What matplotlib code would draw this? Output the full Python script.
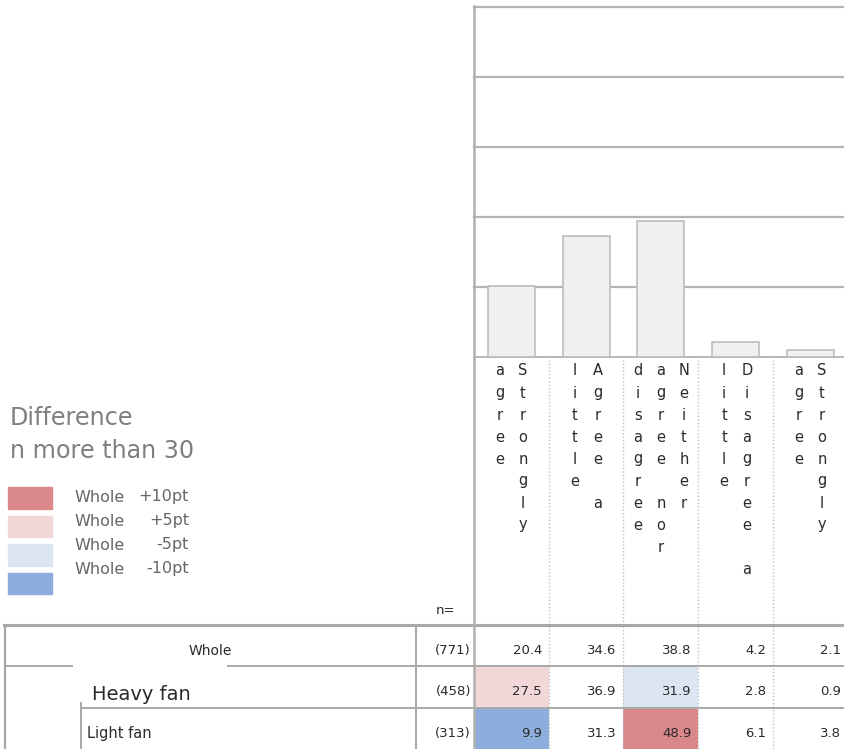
import numpy as np
import matplotlib
matplotlib.use("Agg")
import matplotlib.pyplot as plt
from matplotlib.patches import Rectangle

# ---------------- data ----------------
categories = ["Strongly\nagree", "Agree a\nlittle", "Neither\nagree nor\ndisagree",
              "Disagree a\nlittle", "Strongly\nagree"]
segments = ["Whole", "Heavy fan", "Light fan"]
n_values = [771, 458, 313]
whole_vals = [20.4, 34.6, 38.8, 4.2, 2.1]
heavy_vals = [27.5, 36.9, 31.9, 2.8, 0.9]
light_vals = [9.9, 31.3, 48.9, 6.1, 3.8]
legend_labels = [("Whole", "+10pt"), ("Whole", "+5pt"), ("Whole", "-5pt"), ("Whole", "-10pt")]
legend_colors = ["#da878a", "#f2d7d8", "#dce6f2", "#8daedc"]
yticks = [20, 40, 60, 80, 100]

rows = [whole_vals, heavy_vals, light_vals]

# ---------------- layout helpers ----------------
W, H = 845, 749
fig = plt.figure(figsize=(W / 100, H / 100), dpi=100)
fig.patch.set_facecolor("white")


def fr(x0, y0, x1, y1):
    return [x0 / W, 1 - y1 / H, (x1 - x0) / W, (y1 - y0) / H]


col_w = 74.75
x_left = 474
xmax = (W - x_left) / col_w
GRID = "#b4b4b4"
LINE = "#a8a8a8"
DOT = "#c0c0c0"
TXT = "#2a2a2a"

# ---------------- bar chart ----------------
ax_bar = fig.add_axes(fr(474, 7, W, 357))
ax_bar.set_xlim(0, xmax)
ax_bar.set_ylim(0, 100)
for s in ax_bar.spines.values():
    s.set_visible(False)
ax_bar.set_xticks([])
ax_bar.set_yticks([])
for yt in yticks:
    ax_bar.axhline(yt, color=GRID, lw=1.6, zorder=1, clip_on=False)
ax_bar.axhline(0, color="#b8b8b8", lw=1.4, zorder=1, clip_on=False)
xpos = np.arange(len(whole_vals)) + 0.5
ax_bar.bar(xpos, whole_vals, width=0.63, color="#f0f0f0", edgecolor="#bdbdbd",
           linewidth=1.2, zorder=3)

# ---------------- category labels (vertical stacked) ----------------
ax_lab = fig.add_axes(fr(474, 357, W, 625))
ax_lab.set_xlim(0, xmax)
ax_lab.set_ylim(625, 357)
ax_lab.axis("off")
sub_dx = 23 / col_w
for j, cat in enumerate(categories):
    parts = cat.split("\n")
    n = len(parts)
    for k, word in enumerate(parts):
        # first part is rightmost
        xc = j + 0.5 + ((n - 1) / 2 - k) * sub_dx
        for r, ch in enumerate(word):
            if ch == " ":
                continue
            ax_lab.text(xc, 371 + 22 * r, ch, ha="center", va="center",
                        fontsize=10.5, color=TXT)
for b in range(1, len(categories)):
    ax_lab.axvline(b, color=DOT, lw=1.0, ls=(0, (1, 1.5)))

# ---------------- data table ----------------
ax_tab = fig.add_axes(fr(474, 625, W, 749))
ax_tab.set_xlim(0, xmax)
ax_tab.set_ylim(3, 0)
ax_tab.axis("off")


def diff_color(v, base, n):
    if n <= 30:
        return None
    d = v - base
    if d >= 10:
        return legend_colors[0]
    if d >= 5:
        return legend_colors[1]
    if d <= -10:
        return legend_colors[3]
    if d <= -5:
        return legend_colors[2]
    return None


for i, vals in enumerate(rows):
    for j, v in enumerate(vals):
        if i > 0:
            c = diff_color(v, whole_vals[j], n_values[i])
            if c is not None:
                ax_tab.bar(j + 0.5, 1, width=1, bottom=i, color=c, zorder=1)
        ax_tab.text(j + 1 - 0.09, i + 0.62, f"{v:.1f}", ha="right", va="center",
                    fontsize=9.5, color=TXT, zorder=3)
for b in range(1, len(categories)):
    ax_tab.axvline(b, color=DOT, lw=1.0, ls=(0, (1, 1.5)), zorder=2)
for yb in (1, 2):
    ax_tab.axhline(yb, color=LINE, lw=1.4, zorder=2)

# ---------------- left side of the table ----------------
ax_left = fig.add_axes(fr(0, 625, 474, 749))
ax_left.set_xlim(0, 474)
ax_left.set_ylim(3, 0)
ax_left.axis("off")
ax_left.text(210, 0.62, segments[0], ha="center", va="center", fontsize=10, color=TXT)
ax_left.text(92, 1.68, segments[1], ha="left", va="center", fontsize=14, color=TXT)
ax_left.text(87, 2.62, segments[2], ha="left", va="center", fontsize=10.5, color=TXT)
for i, n in enumerate(n_values):
    ax_left.text(471, i + 0.62, f"({n})", ha="right", va="center", fontsize=9.5, color=TXT)
ax_left.plot([5, 5], [0, 3], color=LINE, lw=1.6, clip_on=False)
ax_left.plot([5, 72], [1, 1], color=LINE, lw=1.4)
ax_left.plot([228, 474], [1, 1], color=LINE, lw=1.4)
ax_left.plot([81, 81], [1.89, 3], color=LINE, lw=1.4)
ax_left.plot([81, 474], [2, 2], color=LINE, lw=1.4)
ax_left.plot([416, 416], [0, 3], color=LINE, lw=1.4)

# ---------------- overlay: frame lines, legend ----------------
ax_ov = fig.add_axes([0, 0, 1, 1])
ax_ov.set_xlim(0, W)
ax_ov.set_ylim(H, 0)
ax_ov.axis("off")
ax_ov.patch.set_alpha(0)
ax_ov.plot([4, W], [625, 625], color=LINE, lw=2.2)
ax_ov.plot([474, 474], [6, H], color="#b0b0b0", lw=1.8)
ax_ov.text(436, 610, "n=", ha="left", va="center", fontsize=9.5, color=TXT)

ax_ov.text(10, 418, "Difference", ha="left", va="center", fontsize=17.2, color="#7f7f7f")
ax_ov.text(10, 451, "n more than 30", ha="left", va="center", fontsize=17.2, color="#7f7f7f")
for k, ((lab, suf), col) in enumerate(zip(legend_labels, legend_colors)):
    ax_ov.add_patch(Rectangle((8, 487 + 28.5 * k), 44, 21.5, color=col))
    ax_ov.text(74, 497 + 24 * k, lab, ha="left", va="center", fontsize=11.5, color="#666666")
    ax_ov.text(189, 497 + 24 * k, suf, ha="right", va="center", fontsize=11.5, color="#666666")

fig.savefig("out.png", dpi=100)
